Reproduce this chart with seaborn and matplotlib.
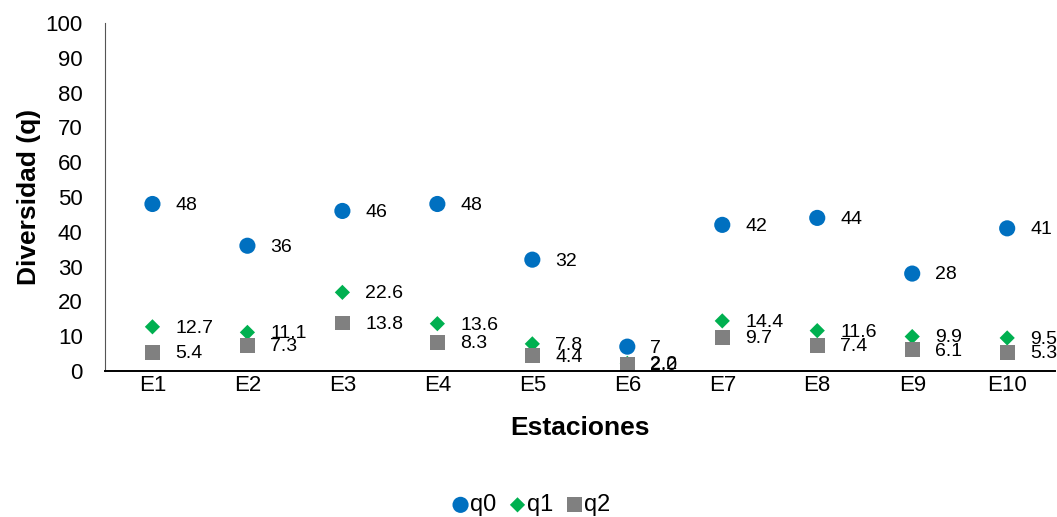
import pandas as pd
import matplotlib.pyplot as plt
import seaborn as sns

# Data
estaciones = ["E1", "E2", "E3", "E4", "E5", "E6", "E7", "E8", "E9", "E10"]
q0 = [48, 36, 46, 48, 32, 7, 42, 44, 28, 41]
q1 = [12.7, 11.1, 22.6, 13.6, 7.8, 2.2, 14.4, 11.6, 9.9, 9.5]
q2 = [5.4, 7.3, 13.8, 8.3, 4.4, 2.0, 9.7, 7.4, 6.1, 5.3]

df = pd.DataFrame({"Estaciones": estaciones, "q0": q0, "q1": q1, "q2": q2})
long = df.melt(id_vars="Estaciones", var_name="serie", value_name="valor")

sns.set_style("white")
plt.rcParams["font.family"] = ["Liberation Sans", "DejaVu Sans"]
plt.rcParams["text.color"] = "black"
plt.rcParams["axes.labelcolor"] = "black"
plt.rcParams["xtick.color"] = "black"
plt.rcParams["ytick.color"] = "black"

colors = {"q0": "#0070C0", "q1": "#00B050", "q2": "#808080"}
markers = {"q0": "o", "q1": "D", "q2": "s"}
sizes = {"q0": 135, "q1": 60, "q2": 115}

fig = plt.figure(figsize=(10.57, 5.17), dpi=100)
ax = fig.add_axes([0.0993, 0.2824, 0.8985, 0.673])

for s in ["q0", "q1", "q2"]:
    sub = long[long["serie"] == s]
    sns.scatterplot(data=sub, x="Estaciones", y="valor", ax=ax,
                    color=colors[s], marker=markers[s], s=sizes[s],
                    edgecolor="none", label=s, clip_on=False)
    fmt = "{:.0f}" if s == "q0" else "{:.1f}"
    for i, v in enumerate(sub["valor"]):
        ax.annotate(fmt.format(v), (i, v), xytext=(16.5, -1),
                    textcoords="offset points", va="center", ha="left",
                    fontsize=14, color="black")

ax.set_xlim(-0.5, 9.5)
ax.set_ylim(0, 100)
ax.set_yticks(range(0, 101, 10))
ax.tick_params(axis="both", length=0, labelsize=16)
ax.tick_params(axis="y", pad=16)
ax.tick_params(axis="x", pad=3)
ax.set_xlabel("Estaciones", fontsize=19, fontweight="bold", labelpad=14)
ax.set_ylabel("Diversidad (q)", fontsize=19, fontweight="bold", labelpad=3)

sns.despine(ax=ax)
ax.spines["left"].set_color("#555555")
ax.spines["bottom"].set_color("#000000")
ax.spines["bottom"].set_linewidth(1.4)

ax.legend(loc="lower center", bbox_to_anchor=(0.502, -0.021),
          bbox_transform=fig.transFigure, ncol=3, frameon=False,
          fontsize=17, handlelength=0.8, handletextpad=0.0,
          columnspacing=0.5, markerscale=1.0, borderaxespad=0.1)

fig.savefig("out.png", dpi=100)
